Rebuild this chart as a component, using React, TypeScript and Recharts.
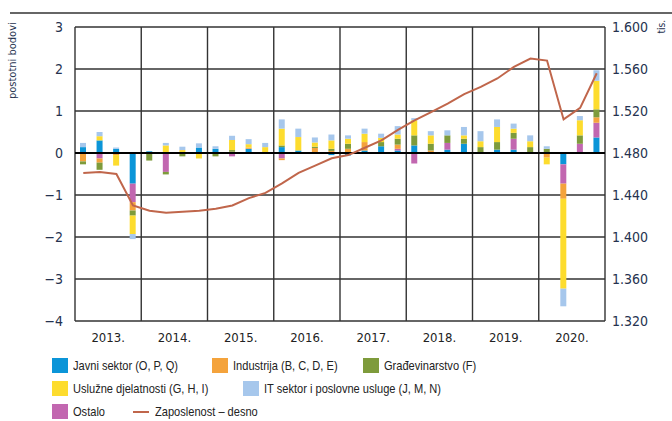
import {
  ComposedChart,
  Bar,
  Line,
  XAxis,
  YAxis,
  CartesianGrid,
  ReferenceLine,
} from 'recharts';

document.body.style.margin = '0';

const years = ['2013.', '2014.', '2015.', '2016.', '2017.', '2018.', '2019.', '2020.'];
const quarters = years.flatMap((y) => ['Q1', 'Q2', 'Q3', 'Q4'].map((q) => `${q} ${y}`));

// doprinosi promjeni zaposlenosti, postotni bodovi
const javni = [0.14, 0.3, 0.1, -0.73, 0.04, 0, 0.02, 0.13, 0.1, 0, 0.1, 0, 0.14, 0.06, 0, -0.05, -0.06, 0.06, 0.16, 0.06, 0.18, 0, 0.08, 0.22, 0, 0.08, 0.08, 0, 0, -0.27, 0, 0.37];
const ostalo = [0, -0.13, 0, -0.44, 0, -0.45, 0, 0, 0, -0.08, 0, 0, -0.13, 0, 0, 0, 0, 0, 0, 0.04, -0.25, 0, 0.16, 0, 0, 0, 0.26, 0, 0, -0.46, 0.22, 0.35];
const industrija = [-0.2, -0.1, -0.05, -0.2, 0, 0, 0, 0, 0, 0.03, 0.03, 0, -0.04, 0, 0.12, 0.05, 0.1, 0.2, 0, 0.1, 0, 0.06, 0, 0, 0, 0, 0, 0, -0.11, -0.36, 0, 0.13];
const gradevinarstvo = [-0.07, -0.17, 0, -0.12, -0.18, -0.06, -0.08, 0, -0.08, 0.04, 0, 0, 0.04, 0, 0.03, 0.05, 0.12, 0, 0.1, 0.14, 0.24, 0.16, 0.18, 0.12, 0.14, 0.18, 0.14, 0.14, 0.1, 0, 0.2, 0.19];
const usluzne = [0, 0.1, -0.25, -0.44, 0, 0.18, 0.05, -0.13, 0, 0.24, 0.08, 0.14, 0.4, 0.32, 0.1, 0.2, 0.12, 0.2, 0.1, 0.1, 0.36, 0.2, 0, 0.08, 0.14, 0.36, 0.1, 0.14, -0.16, -2.14, 0.36, 0.68];
const itSektor = [0.1, 0.1, 0.03, -0.12, 0, 0.06, 0.08, 0.1, 0.06, 0.1, 0.12, 0.1, 0.22, 0.2, 0.12, 0.14, 0.08, 0.12, 0.1, 0.2, 0.05, 0.1, 0.12, 0.2, 0.24, 0.18, 0.12, 0.14, 0.06, -0.42, 0.1, 0.25];
// zaposlenost, tisuće (desna os)
const zaposlenost = [1461, 1462, 1460, 1430, 1425, 1423, 1424, 1425, 1427, 1430, 1437, 1442, 1451, 1461, 1468, 1475, 1478, 1485, 1492, 1502, 1511, 1519, 1527, 1536, 1543, 1551, 1562, 1570, 1568, 1512, 1523, 1556];

const leftTicks = [-4, -3, -2, -1, 0, 1, 2, 3];
const rightTicks = [1320, 1360, 1400, 1440, 1480, 1520, 1560, 1600];
const yearBounds = [0, 1, 2, 3, 4, 5, 6, 7, 8];
const yearMids = [0.5, 1.5, 2.5, 3.5, 4.5, 5.5, 6.5, 7.5];

const series = [
  { key: 'javni', name: 'Javni sektor (O, P, Q)', color: '#0b95d8' },
  { key: 'ostalo', name: 'Ostalo', color: '#c267b0' },
  { key: 'industrija', name: 'Industrija (B, C, D, E)', color: '#f4a33c' },
  { key: 'gradevinarstvo', name: 'Građevinarstvo (F)', color: '#7e9b3b' },
  { key: 'usluzne', name: 'Uslužne djelatnosti (G, H, I)', color: '#fddc2e' },
  { key: 'it', name: 'IT sektor i poslovne usluge (J, M, N)', color: '#a6c7ec' },
];
const LINE_COLOR = '#c0664b';

const data = quarters.map((q, i) => ({
  q,
  yr: (i + 0.5) / 4,
  javni: javni[i],
  ostalo: ostalo[i],
  industrija: industrija[i],
  gradevinarstvo: gradevinarstvo[i],
  usluzne: usluzne[i],
  it: itSektor[i],
  zaposlenost: zaposlenost[i],
}));

const FONT = '"DejaVu Sans Condensed", "Liberation Sans", sans-serif';
const LEGEND_FONT = '"Liberation Sans", Arial, sans-serif';
const TICK_COLOR = '#26324f';
const GRID = '#333';

function LegendItem({ x, y, color, label, line }: { x: number; y: number; color: string; label: string; line?: boolean }) {
  return (
    <div style={{ position: 'absolute', left: x, top: y, display: 'flex', alignItems: 'center', whiteSpace: 'nowrap' }}>
      {line ? (
        <div style={{ width: 16, height: 2, background: color, marginRight: 6, marginLeft: 2 }} />
      ) : (
        <div style={{ width: 16, height: 15, background: color, marginRight: 5 }} />
      )}
      <span
        style={{
          fontSize: 13.5,
          color: '#222',
          fontFamily: LEGEND_FONT,
          display: 'inline-block',
          transform: 'scaleX(0.82)',
          transformOrigin: 'left center',
        }}
      >
        {label}
      </span>
    </div>
  );
}

export default function App() {
  return (
    <div style={{ position: 'relative', width: 672, height: 421, background: '#fff', overflow: 'hidden', fontFamily: FONT }}>
      {/* gornja crta */}
      <div style={{ position: 'absolute', left: 10, top: 12, width: 662, height: 2, background: '#666' }} />
      <div
        style={{
          position: 'absolute',
          left: 6,
          top: 22,
          writingMode: 'vertical-rl',
          transform: 'rotate(180deg)',
          fontSize: 11,
          color: '#26324f',
          height: 84,
          textAlign: 'right',
        }}
      >
        postotni bodovi
      </div>
      <div
        style={{
          position: 'absolute',
          left: 656,
          top: 20,
          writingMode: 'vertical-rl',
          transform: 'rotate(180deg)',
          fontSize: 10,
          color: '#26324f',
        }}
      >
        tis.
      </div>
      <div style={{ position: 'absolute', left: 0, top: 0 }}>
        <ComposedChart
          width={672}
          height={421}
          data={data}
          stackOffset="sign"
          margin={{ top: 27, right: 0, bottom: 70, left: 0 }}
        >
          <XAxis xAxisId="q" dataKey="q" hide height={0} />
          <XAxis
            xAxisId="yr"
            dataKey="yr"
            type="number"
            domain={[0, 8]}
            ticks={yearMids}
            allowDataOverflow
            axisLine={false}
            tickLine={false}
            tickSize={0}
            tickMargin={12}
            height={30}
            interval={0}
            tick={{ fontSize: 13, fill: '#222', fontFamily: FONT }}
            tickFormatter={(v: number) => years[Math.floor(v)]}
          />
          <YAxis
            yAxisId="l"
            domain={[-4, 3]}
            ticks={leftTicks}
            width={75}
            axisLine={false}
            tickLine={false}
            tickSize={0}
            tickMargin={12}
            interval={0}
            tick={{ fontSize: 14, fill: TICK_COLOR, fontFamily: FONT }}
            tickFormatter={(v: number) => (v < 0 ? `\u2212${Math.abs(v)}` : `${v}`)}
          />
          <YAxis
            yAxisId="r"
            orientation="right"
            domain={[1320, 1600]}
            ticks={rightTicks}
            width={67}
            axisLine={false}
            tickLine={false}
            tickSize={0}
            tickMargin={7}
            interval={0}
            tick={{ fontSize: 14, fill: TICK_COLOR, fontFamily: FONT, textAnchor: 'start' }}
            tickFormatter={(v: number) => (v / 1000).toFixed(3)}
          />
          <CartesianGrid xAxisId="yr" yAxisId="l" vertical={false} stroke={GRID} strokeWidth={1.4} />
          {yearBounds.map((b) => (
            <ReferenceLine key={b} xAxisId="yr" yAxisId="l" x={b} stroke={GRID} strokeWidth={1.4} />
          ))}
          {series.map((s) => (
            <Bar
              key={s.key}
              xAxisId="q"
              yAxisId="l"
              dataKey={s.key}
              name={s.name}
              stackId="a"
              fill={s.color}
              barSize={6}
              isAnimationActive={false}
            />
          ))}
          <ReferenceLine xAxisId="yr" yAxisId="l" y={0} stroke="#000" strokeWidth={2} />
          <Line
            xAxisId="q"
            yAxisId="r"
            dataKey="zaposlenost"
            name="Zaposlenost – desno"
            stroke={LINE_COLOR}
            strokeWidth={2}
            dot={false}
            type="linear"
            isAnimationActive={false}
          />
        </ComposedChart>
      </div>
      <LegendItem x={52} y={358} color={series[0].color} label={series[0].name} />
      <LegendItem x={212} y={358} color={series[2].color} label={series[2].name} />
      <LegendItem x={363} y={358} color={series[3].color} label={series[3].name} />
      <LegendItem x={52} y={381} color={series[4].color} label={series[4].name} />
      <LegendItem x={243} y={381} color={series[5].color} label={series[5].name} />
      <LegendItem x={52} y={404} color={series[1].color} label={series[1].name} />
      <LegendItem x={131} y={404} color={LINE_COLOR} label="Zaposlenost – desno" line />
    </div>
  );
}
